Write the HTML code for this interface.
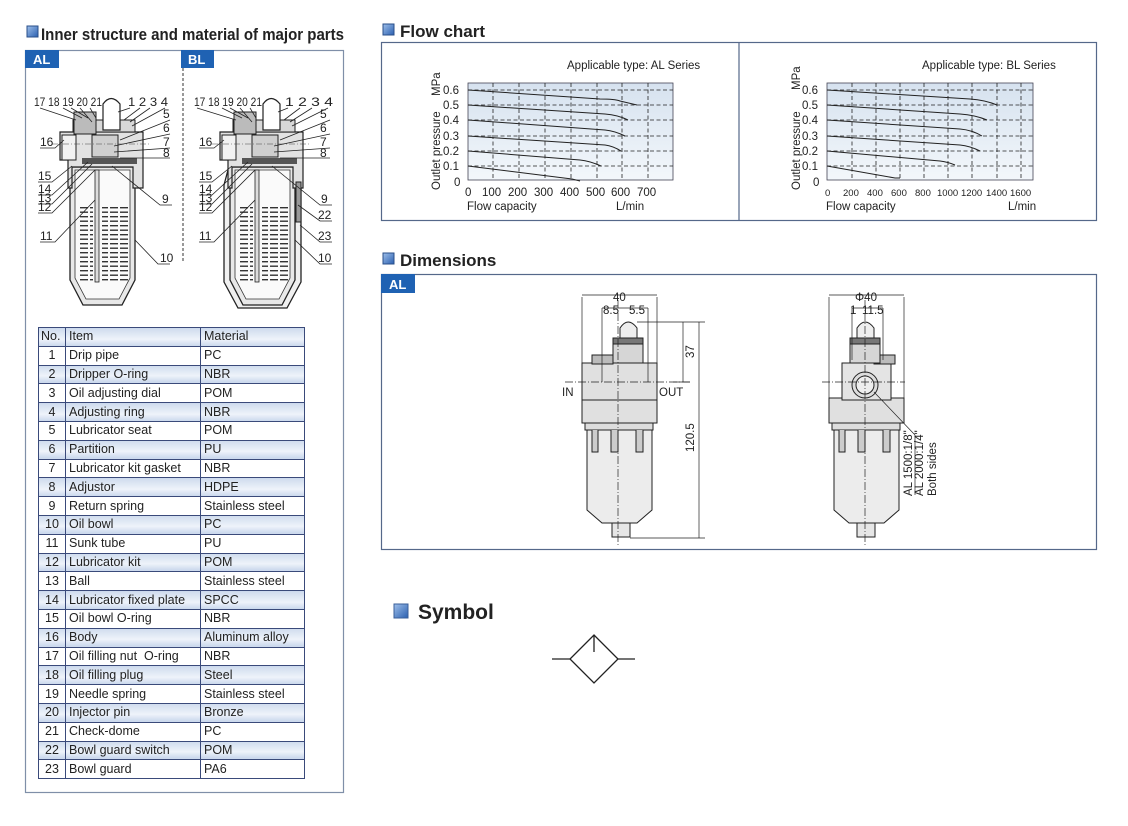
<!DOCTYPE html>
<html><head><meta charset="utf-8"><style>
body{margin:0;background:#fff;width:1128px;height:826px;overflow:hidden;position:relative;font-family:"Liberation Sans",sans-serif}
svg{position:absolute;left:0;top:0}
table{position:absolute;left:38px;top:327px;width:266px;border-collapse:collapse;table-layout:fixed;font-size:12.5px;color:#222}
td{border:1px solid #3a4a7a;height:17.8px;padding:0 0 0 3px;line-height:17px;white-space:nowrap;overflow:hidden}
td:first-child{text-align:center;padding:0}
tr:nth-child(odd) td{background:linear-gradient(#cfdcee,#eef3fa 60%,#c9d7ec)}
tr:nth-child(even) td{background:#fff}
</style></head><body>
<svg width="1128" height="826" viewBox="0 0 1128 826" font-family="Liberation Sans, sans-serif">
<defs>
<linearGradient id="ic" x1="0" y1="0" x2="1" y2="1"><stop offset="0" stop-color="#9fc0ea"/><stop offset="1" stop-color="#2a5fb0"/></linearGradient>
<linearGradient id="pl" x1="0" y1="0" x2="0" y2="1"><stop offset="0" stop-color="#d6e2ef"/><stop offset="1" stop-color="#f3f7fb"/></linearGradient>
<pattern id="grad" width="10" height="4.5" patternUnits="userSpaceOnUse"><rect width="8" height="1.4" fill="#333"/></pattern>
<g id="lub">
 <!-- bowl -->
 <path d="M70 167 H135 V280 L122 305 H83 L70 280 Z" fill="#e8e8e8" stroke="#222" stroke-width="1.3"/>
 <path d="M75 170 H130 V278 L119 299 H86 L75 278 Z" fill="#fafafa" stroke="#333" stroke-width="0.8"/>
 <rect x="78" y="207" width="15" height="76" fill="url(#grad)"/>
 <rect x="102" y="207" width="28" height="76" fill="url(#grad)"/>
 <rect x="95" y="170" width="4" height="112" fill="#ddd" stroke="#222" stroke-width="0.8"/>
 <!-- body -->
 <path d="M60 132 H143 V188 H133 V167 H72 V188 H68 V160 H60 Z" fill="#e2e2e2" stroke="#222" stroke-width="1.2"/>
 <rect x="62" y="135" width="14" height="25" fill="#f2f2f2" stroke="#222"/>
 <rect x="73" y="120" width="62" height="12" fill="#d8d8d8" stroke="#222"/>
 <rect x="74" y="112" width="22" height="22" fill="#bbb" stroke="#222"/>
 <path d="M103 130 V104 Q111 93 120 104 V130 Z" fill="#fff" stroke="#222" stroke-width="1.2"/>
 <rect x="92" y="135" width="26" height="22" fill="#cfcfcf" stroke="#222"/>
 <rect x="82" y="158" width="55" height="6" fill="#555"/>
 <line x1="52" y1="144" x2="150" y2="144" stroke="#444" stroke-width="0.6" stroke-dasharray="6 2 1 2"/>
</g>
</defs>

<!-- LEFT PANEL -->
<rect x="27" y="26" width="11" height="11" fill="url(#ic)" stroke="#2a4f8a"/>
<text x="41" y="40" font-size="17" font-weight="bold" fill="#222" textLength="303" lengthAdjust="spacingAndGlyphs">Inner structure and material of major parts</text>
<rect x="25.5" y="50.5" width="318" height="742" fill="none" stroke="#7f8fa8" stroke-width="1.2"/>
<rect x="25" y="50" width="34" height="18" fill="#1f62b3"/>
<text x="33" y="64" font-size="13" font-weight="bold" fill="#fff">AL</text>
<rect x="181" y="50" width="33" height="18" fill="#1f62b3"/>
<text x="188" y="64" font-size="13" font-weight="bold" fill="#fff">BL</text>
<line x1="183" y1="68" x2="183" y2="262" stroke="#333" stroke-dasharray="3 2"/>

<use href="#lub"/>
<g transform="translate(160,0)">
 <path d="M68 170 H141 V282 L127 308 H78 L64 282 V185 Z" fill="#f0f0f0" stroke="#222" stroke-width="1.3"/>
 <use href="#lub"/>
 <rect x="136" y="182" width="5" height="40" fill="#999" stroke="#222"/>
</g>
<g font-size="12" fill="#222" stroke="none">
 <text x="34" y="106" textLength="68" lengthAdjust="spacingAndGlyphs">17 18 19 20 21</text>
 <text x="128" y="106" textLength="40" lengthAdjust="spacingAndGlyphs">1 2 3 4</text>
 <text x="163" y="118">5</text><text x="163" y="132">6</text><text x="163" y="146">7</text><text x="163" y="157">8</text>
 <text x="40" y="146">16</text><text x="38" y="180">15</text><text x="38" y="193">14</text><text x="38" y="202">13</text><text x="38" y="211">12</text><text x="40" y="240">11</text>
 <text x="162" y="203">9</text><text x="160" y="262">10</text>
 <text x="194" y="106" textLength="68" lengthAdjust="spacingAndGlyphs">17 18 19 20 21</text>
 <text x="285" y="106" textLength="48" lengthAdjust="spacingAndGlyphs">1 2 3 4</text>
 <text x="320" y="118">5</text><text x="320" y="132">6</text><text x="320" y="146">7</text><text x="320" y="157">8</text>
 <text x="199" y="146">16</text><text x="199" y="180">15</text><text x="199" y="193">14</text><text x="199" y="202">13</text><text x="199" y="211">12</text><text x="199" y="240">11</text>
 <text x="321" y="203">9</text><text x="318" y="219">22</text><text x="318" y="240">23</text><text x="318" y="262">10</text>
</g>
<g stroke="#222" stroke-width="0.8" fill="none">
 <path d="M40 108 L76 120 M63 108 L82 118 M71 108 L88 118 M80 108 L92 122 M90 108 L96 118"/>
 <path d="M130 108 L118 112 M140 108 L124 120 M150 108 L130 122 M165 108 L132 126 M170 120 L120 140 M170 134 L114 146 M170 148 L114 152 M170 158 L120 158"/>
 <path d="M40 148 L55 148 L64 140 M38 182 L52 182 L72 166 M38 195 L52 195 L88 162 M38 204 L52 204 L92 164 M38 213 L52 213 L95 170 M40 242 L55 242 L95 200 M172 205 L160 205 L112 166 M170 264 L158 264 L135 240"/>
 <path d="M197 108 L236 120 M222 108 L242 118 M230 108 L248 118 M240 108 L252 122 M250 108 L256 118"/>
 <path d="M288 108 L278 112 M300 108 L284 120 M312 108 L290 122 M328 108 L292 126 M330 120 L280 140 M330 134 L274 146 M330 148 L274 152 M330 158 L280 158"/>
 <path d="M199 148 L214 148 L224 140 M199 182 L212 182 L232 166 M199 195 L212 195 L248 162 M199 204 L212 204 L252 164 M199 213 L212 213 L255 170 M199 242 L214 242 L255 200 M332 205 L320 205 L272 166 M332 221 L320 221 L298 205 M332 242 L320 242 L300 225 M332 264 L320 264 L295 240"/>
</g>

<!-- FLOW CHART -->
<rect x="383" y="24" width="11" height="11" fill="url(#ic)" stroke="#2a4f8a"/>
<text x="400" y="37" font-size="17" font-weight="bold" fill="#222">Flow chart</text>
<rect x="381.5" y="42.5" width="715" height="178" fill="none" stroke="#55688a" stroke-width="1.2"/>
<line x1="739" y1="42" x2="739" y2="221" stroke="#55688a" stroke-width="1.2"/>
<!-- AL chart -->
<rect x="468" y="83" width="205" height="97" fill="url(#pl)" stroke="#445" stroke-width="0.8"/>
<g stroke="#222" stroke-width="0.8" stroke-dasharray="4 2.5">
 <path d="M468 90H673M468 105H673M468 120H673M468 136H673M468 151H673M468 166H673"/>
 <path d="M493 83V180M519 83V180M545 83V180M571 83V180M597 83V180M622 83V180M648 83V180"/>
</g>
<g stroke="#222" stroke-width="1" fill="none">
 <path d="M468 90 L600 99 Q615 99 620 101 L637 105"/>
 <path d="M468 105 L605 114 Q618 115 628 120"/>
 <path d="M468 120 L605 130 Q615 131 625 136"/>
 <path d="M468 136 L605 145 Q613 146 621 151"/>
 <path d="M468 151 L580 160 Q590 161 601 166"/>
 <path d="M468 166 L572 179 L580 181"/>
</g>
<g font-size="11.5" fill="#222">
 <text x="567" y="69">Applicable type: AL Series</text>
 <text x="443" y="94">0.6</text><text x="443" y="109">0.5</text><text x="443" y="124">0.4</text><text x="443" y="140">0.3</text><text x="443" y="155">0.2</text><text x="443" y="170">0.1</text><text x="454" y="186">0</text>
 <text x="465" y="196">0</text><text x="482" y="196">100</text><text x="508" y="196">200</text><text x="534" y="196">300</text><text x="560" y="196">400</text><text x="586" y="196">500</text><text x="611" y="196">600</text><text x="637" y="196">700</text>
 <text x="467" y="210">Flow capacity</text><text x="616" y="210">L/min</text>
 <text transform="translate(440,190) rotate(-90)">Outlet pressure</text>
 <text transform="translate(440,96) rotate(-90)">MPa</text>
</g>
<!-- BL chart -->
<rect x="827" y="83" width="206" height="97" fill="url(#pl)" stroke="#445" stroke-width="0.8"/>
<g stroke="#222" stroke-width="0.8" stroke-dasharray="4 2.5">
 <path d="M827 90H1033M827 105H1033M827 120H1033M827 136H1033M827 151H1033M827 166H1033"/>
 <path d="M852 83V180M876 83V180M900 83V180M924 83V180M948 83V180M972 83V180M997 83V180M1021 83V180"/>
</g>
<g stroke="#222" stroke-width="1" fill="none">
 <path d="M827 90 L970 99 Q985 100 997 105"/>
 <path d="M827 105 L960 114 Q975 115 987 120"/>
 <path d="M827 120 L960 129 Q972 130 982 136"/>
 <path d="M827 136 L960 145 Q970 146 980 151"/>
 <path d="M827 151 L940 161 Q948 162 955 165"/>
 <path d="M827 166 L895 178 L900 178"/>
</g>
<g font-size="11.5" fill="#222">
 <text x="922" y="69">Applicable type: BL Series</text>
 <text x="802" y="94">0.6</text><text x="802" y="109">0.5</text><text x="802" y="124">0.4</text><text x="802" y="140">0.3</text><text x="802" y="155">0.2</text><text x="802" y="170">0.1</text><text x="813" y="186">0</text>
 <g font-size="9.5"><text x="825" y="196">0</text><text x="843" y="196">200</text><text x="867" y="196">400</text><text x="891" y="196">600</text><text x="915" y="196">800</text><text x="937" y="196">1000</text><text x="961" y="196">1200</text><text x="986" y="196">1400</text><text x="1010" y="196">1600</text></g>
 <text x="826" y="210">Flow capacity</text><text x="1008" y="210">L/min</text>
 <text transform="translate(800,190) rotate(-90)">Outlet pressure</text>
 <text transform="translate(800,90) rotate(-90)">MPa</text>
</g>

<!-- DIMENSIONS -->
<rect x="383" y="253" width="11" height="11" fill="url(#ic)" stroke="#2a4f8a"/>
<text x="400" y="266" font-size="17" font-weight="bold" fill="#222">Dimensions</text>
<rect x="381.5" y="274.5" width="715" height="275" fill="none" stroke="#55688a" stroke-width="1.2"/>
<rect x="381" y="274" width="34" height="19" fill="#1f62b3"/>
<text x="389" y="289" font-size="13" font-weight="bold" fill="#fff">AL</text>

<g id="unitA" stroke="#222" stroke-width="1" fill="#e6e6e6">
 <path d="M587 428 H652 V510 L637 523 H602 L587 510 Z" fill="#ececec"/>
 <rect x="612" y="523" width="18" height="14"/>
 <rect x="585" y="423" width="68" height="7" fill="#ddd"/>
 <path d="M592 430V452H598V430M611 430V452H618V430M636 430V452H643V430" fill="#ccc"/>
 <rect x="582" y="363" width="75" height="60" fill="#e0e0e0"/>
 <line x1="582" y1="400" x2="657" y2="400"/>
 <rect x="592" y="355" width="21" height="9" fill="#bbb"/>
 <rect x="613" y="338" width="30" height="25" fill="#d6d6d6"/>
 <rect x="613" y="338" width="30" height="6" fill="#777"/>
 <path d="M620 338 V328 Q628 316 637 328 V338 Z" fill="#eee"/>
</g>
<g stroke="#222" stroke-width="0.7" fill="none">
 <path d="M618 300V545" stroke-dasharray="8 2 1 2"/>
 <path d="M565 382H690" stroke-dasharray="8 2 1 2"/>
 <path d="M582 297V363M657 297V363M582 295H657M602 308V382M648 308V382M602 308H648"/>
 <path d="M637 322H705M630 538H705M683 322V382M699 322V538M673 382H690"/>
</g>
<g font-size="11.5" fill="#222">
 <text x="613" y="301">40</text><text x="603" y="314">8.5</text><text x="629" y="314">5.5</text>
 <text x="562" y="396">IN</text><text x="659" y="396">OUT</text>
 <text transform="translate(694,358) rotate(-90)">37</text>
 <text transform="translate(694,452) rotate(-90)">120.5</text>
</g>

<g stroke="#222" stroke-width="1" fill="#e6e6e6">
 <path d="M834 428 H899 V510 L884 523 H849 L834 510 Z" fill="#ececec"/>
 <rect x="857" y="523" width="18" height="14"/>
 <rect x="832" y="423" width="68" height="7" fill="#ddd"/>
 <path d="M839 430V452H845V430M858 430V452H865V430M883 430V452H890V430" fill="#ccc"/>
 <rect x="829" y="398" width="75" height="25" fill="#e0e0e0"/>
 <rect x="842" y="363" width="49" height="37" fill="#e4e4e4"/>
 <rect x="874" y="355" width="21" height="9" fill="#bbb"/>
 <rect x="850" y="338" width="30" height="25" fill="#d6d6d6"/>
 <rect x="850" y="338" width="30" height="6" fill="#777"/>
 <path d="M857 338 V328 Q865 316 874 328 V338 Z" fill="#eee"/>
 <circle cx="865" cy="385" r="13" fill="#ddd"/>
 <circle cx="865" cy="385" r="9" fill="#eee"/>
</g>
<g stroke="#222" stroke-width="0.7" fill="none">
 <path d="M865 300V545" stroke-dasharray="8 2 1 2"/>
 <path d="M822 382H905" stroke-dasharray="8 2 1 2"/>
 <path d="M829 297V398M904 297V398M829 295H904M852 308V360M883 308V360M852 308H883"/>
 <path d="M874 392 L915 435 V495"/>
</g>
<g font-size="11.5" fill="#222">
 <text x="855" y="301">Φ40</text><text x="850" y="314">1</text><text x="862" y="314">11.5</text>
 <text transform="translate(912,496) rotate(-90)">AL 1500:1/8"</text>
 <text transform="translate(923,496) rotate(-90)">AL 2000:1/4"</text>
 <text transform="translate(936,496) rotate(-90)">Both sides</text>
</g>

<!-- SYMBOL -->
<rect x="394" y="604" width="14" height="14" fill="url(#ic)" stroke="#3a5f9a"/>
<text x="418" y="619" font-size="21" font-weight="bold" fill="#222">Symbol</text>
<g stroke="#222" stroke-width="1.3" fill="none">
 <path d="M594 635 L618 659 L594 683 L570 659 Z"/>
 <path d="M552 659H570M618 659H635M594 635V652"/>
</g>
</svg>

<table>
<colgroup><col style="width:27px"><col style="width:135px"><col style="width:104px"></colgroup>
<tr><td style="text-align:left;padding-left:2px">No.</td><td>Item</td><td>Material</td></tr>
<tr><td>1</td><td>Drip pipe</td><td>PC</td></tr>
<tr><td>2</td><td>Dripper O-ring</td><td>NBR</td></tr>
<tr><td>3</td><td>Oil adjusting dial</td><td>POM</td></tr>
<tr><td>4</td><td>Adjusting ring</td><td>NBR</td></tr>
<tr><td>5</td><td>Lubricator seat</td><td>POM</td></tr>
<tr><td>6</td><td>Partition</td><td>PU</td></tr>
<tr><td>7</td><td>Lubricator kit gasket</td><td>NBR</td></tr>
<tr><td>8</td><td>Adjustor</td><td>HDPE</td></tr>
<tr><td>9</td><td>Return spring</td><td>Stainless steel</td></tr>
<tr><td>10</td><td>Oil bowl</td><td>PC</td></tr>
<tr><td>11</td><td>Sunk tube</td><td>PU</td></tr>
<tr><td>12</td><td>Lubricator kit</td><td>POM</td></tr>
<tr><td>13</td><td>Ball</td><td>Stainless steel</td></tr>
<tr><td>14</td><td>Lubricator fixed plate</td><td>SPCC</td></tr>
<tr><td>15</td><td>Oil bowl O-ring</td><td>NBR</td></tr>
<tr><td>16</td><td>Body</td><td>Aluminum alloy</td></tr>
<tr><td>17</td><td>Oil filling nut &nbsp;O-ring</td><td>NBR</td></tr>
<tr><td>18</td><td>Oil filling plug</td><td>Steel</td></tr>
<tr><td>19</td><td>Needle spring</td><td>Stainless steel</td></tr>
<tr><td>20</td><td>Injector pin</td><td>Bronze</td></tr>
<tr><td>21</td><td>Check-dome</td><td>PC</td></tr>
<tr><td>22</td><td>Bowl guard switch</td><td>POM</td></tr>
<tr><td>23</td><td>Bowl guard</td><td>PA6</td></tr>
</table>
</body></html>
